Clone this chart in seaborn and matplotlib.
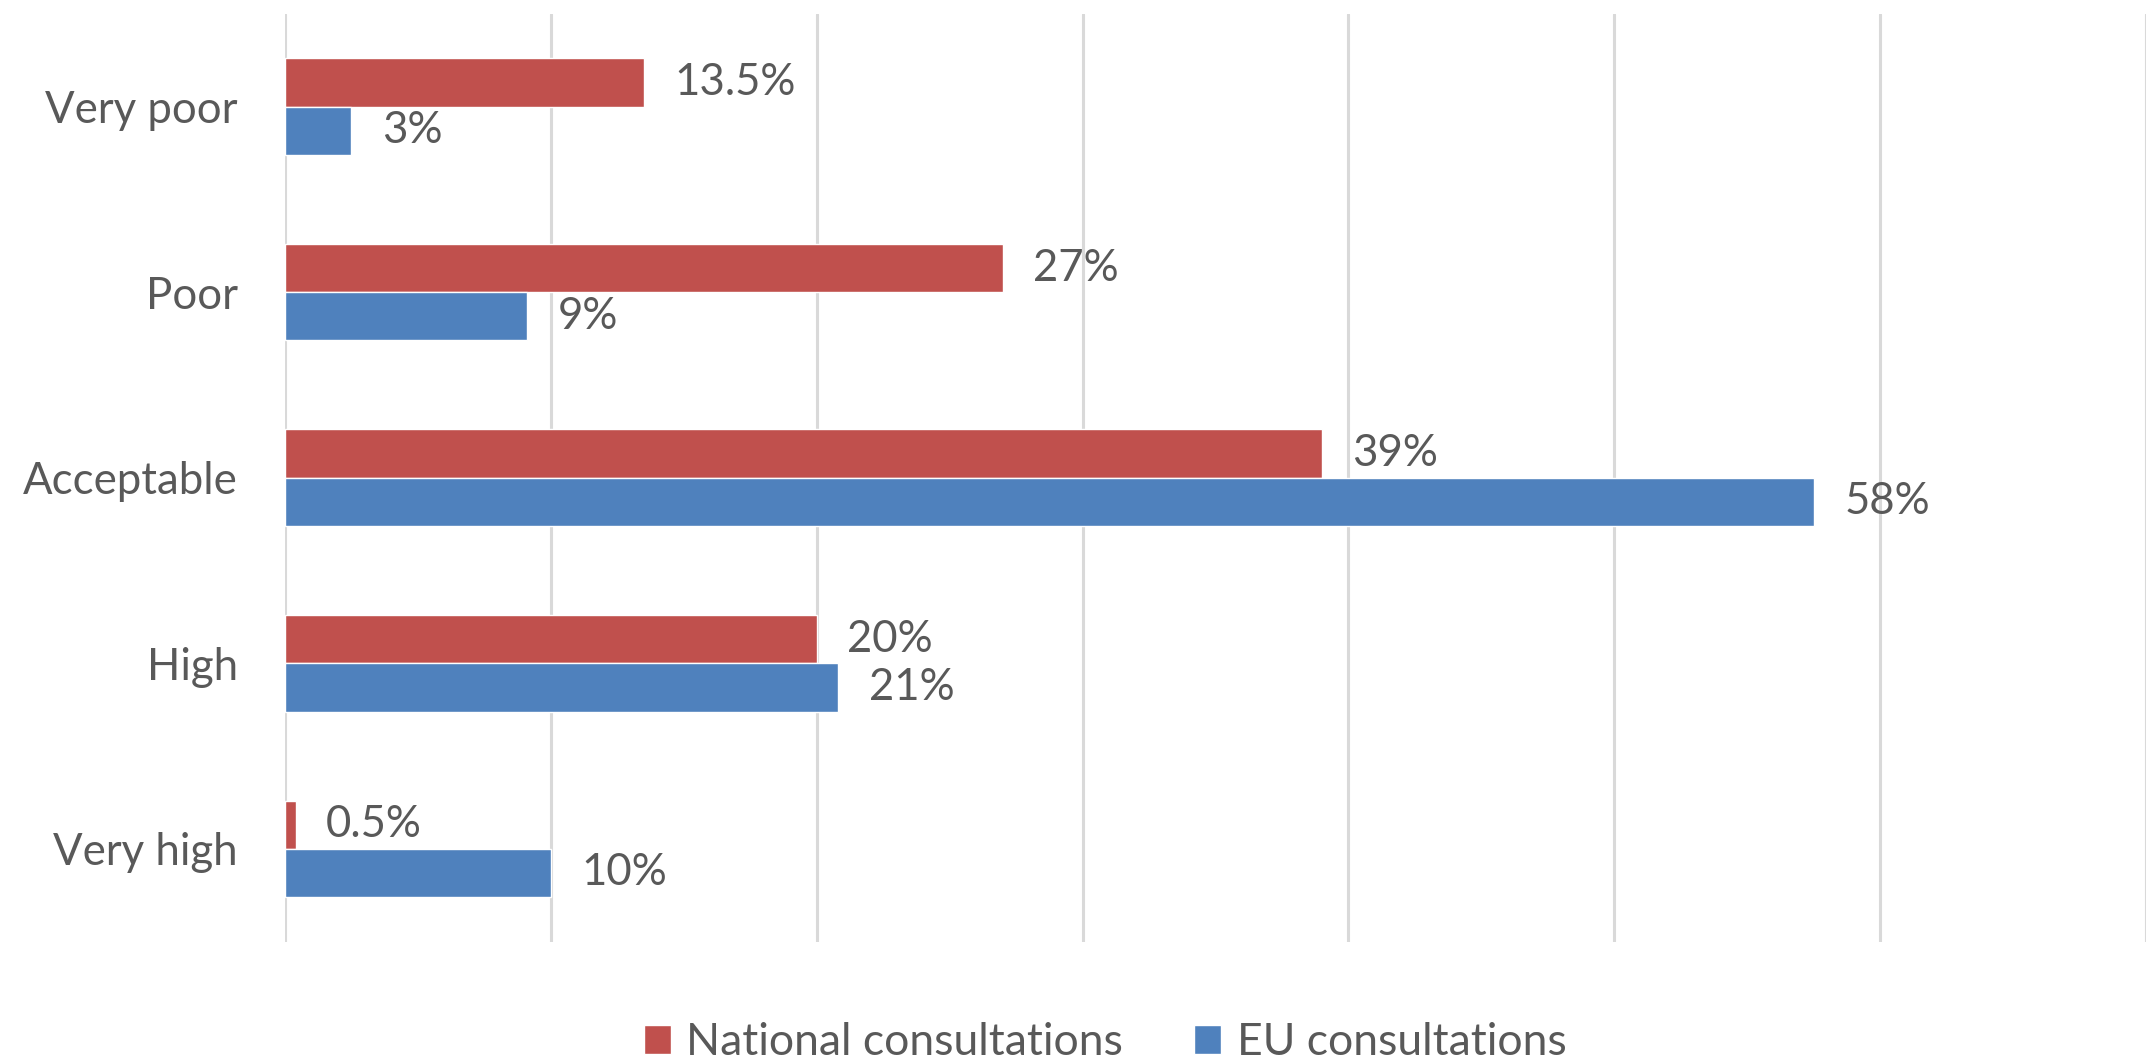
import pandas as pd
import matplotlib.pyplot as plt
import seaborn as sns

categories = ['Very poor', 'Poor', 'Acceptable', 'High', 'Very high']
national = [13.5, 27, 39, 20, 0.4]
eu = [2.5, 9.1, 57.5, 20.8, 10]
national_labels = ['13.5%', '27%', '39%', '20%', '0.5%']
eu_labels = ['3%', '9%', '58%', '21%', '10%']
series = ['National consultations', 'EU consultations']
colors = ['#C0504D', '#4F81BD']

df = pd.DataFrame({
    'Quality': categories * 2,
    'Share': national + eu,
    'Source': [series[0]] * len(categories) + [series[1]] * len(categories),
})

sns.set_theme(style='white')
plt.rcParams['font.family'] = ['Lato', 'DejaVu Sans']
text_color = '#595959'

fig = plt.figure(figsize=(21.46, 10.64), dpi=100)
ax = fig.add_axes([0.1328, 0.115, 0.8672, 0.872])

sns.barplot(data=df, x='Share', y='Quality', hue='Source', order=categories,
            hue_order=series, palette=colors, orient='h', width=0.52,
            saturation=1, ax=ax)

# data labels
for cont, labs in zip(ax.containers, [national_labels, eu_labels]):
    ax.bar_label(cont, labels=labs, padding=22, fontsize=31.5, color=text_color)

ax.set_xlim(0, 70)
ax.set_ylim(4.5, -0.5)
ax.set_xticks(range(0, 71, 10))
ax.set_xticklabels([])
ax.xaxis.grid(True, color='#D9D9D9', linewidth=2.2)
ax.yaxis.grid(False)
ax.tick_params(axis='both', length=0)
ax.tick_params(axis='y', labelsize=31.5, labelcolor=text_color, pad=34)
ax.set_xlabel('')
ax.set_ylabel('')
for s in ax.spines.values():
    s.set_visible(False)

handles, labels = ax.get_legend_handles_labels()
ax.legend_.remove()
fig.legend(handles, labels, loc='center', bbox_to_anchor=(0.515, 0.02),
           ncol=2, frameon=False, fontsize=32, labelcolor=text_color,
           handlelength=0.6, handleheight=0.65, handletextpad=0.35,
           columnspacing=1.6)

fig.savefig('out.png', dpi=100)
